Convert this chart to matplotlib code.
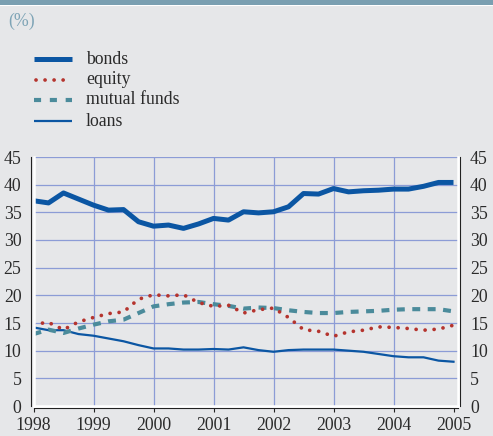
import matplotlib
matplotlib.use("Agg")
import matplotlib.pyplot as plt
from matplotlib.lines import Line2D
from matplotlib.patches import Rectangle
import numpy as np

# ---- data (quarterly, 1998 Q1 .. 2005 Q1) ----
start_year = 1998
bonds = [37.1, 36.7, 38.5, 37.4, 36.3, 35.4, 35.5, 33.3, 32.5, 32.7, 32.1, 32.9,
         33.9, 33.6, 35.1, 34.9, 35.1, 36.0, 38.4, 38.3, 39.3, 38.7, 38.9, 39.0,
         39.2, 39.2, 39.7, 40.4, 40.4]
equity = [14.8, 15.1, 13.8, 15.2, 16.0, 16.7, 17.0, 19.3, 20.1, 19.9, 20.1, 18.7,
          18.0, 18.2, 16.8, 17.4, 17.7, 16.0, 13.8, 13.5, 12.6, 13.4, 13.7, 14.3,
          14.2, 14.0, 13.7, 13.9, 14.6]
mutual_funds = [13.0, 13.8, 13.2, 14.0, 14.7, 15.3, 15.6, 16.8, 18.0, 18.4, 18.7, 18.8,
                18.4, 18.1, 17.6, 17.8, 17.7, 17.3, 17.0, 16.8, 16.8, 17.0, 17.1, 17.2,
                17.4, 17.5, 17.5, 17.5, 17.1]
loans = [14.2, 13.7, 13.7, 13.0, 12.7, 12.2, 11.7, 11.0, 10.4, 10.4, 10.2, 10.2,
         10.3, 10.2, 10.6, 10.1, 9.8, 10.1, 10.2, 10.2, 10.2, 10.0, 9.8, 9.4,
         9.0, 8.8, 8.8, 8.2, 8.0]
series_labels = ["bonds", "equity", "mutual funds", "loans"]
x_ticks = [1998, 1999, 2000, 2001, 2002, 2003, 2004, 2005]
y_ticks = [0, 5, 10, 15, 20, 25, 30, 35, 40, 45]
unit_label = "(%)"

x = start_year + np.arange(len(bonds)) * 0.25

W, H = 493, 436
BG = "#e6e7e9"
GRID = "#8c9cd6"
BLUE = "#0b56a3"
RED = "#b5342e"
TEAL = "#4b8b9b"
TXT = "#2b2b2b"
FONT = "Liberation Serif"
FS = 12.8

fig = plt.figure(figsize=(W / 100, H / 100), dpi=100, facecolor=BG)

# top band
fig.patches.append(Rectangle((0, 1 - 5 / H), 1, 5 / H, transform=fig.transFigure,
                             facecolor="#7a9fb1", edgecolor="none", zorder=0))
fig.patches.append(Rectangle((0, 1 - 6.5 / H), 1, 1.5 / H, transform=fig.transFigure,
                             facecolor="white", edgecolor="none", zorder=0))

fig.text(8 / W, 1 - 21 / H, unit_label, color="#7ea4b6", fontsize=FS,
         family=FONT, va="center", ha="left")

ax = fig.add_axes([33.5 / W, 1 - 406 / H, (458 - 33.5) / W, (406 - 157) / H])
ax.set_facecolor(BG)
ax.set_xlim(1998, 2005.075)
ax.set_ylim(0, 45)

for yv in y_ticks[1:]:
    ax.axhline(yv, color=GRID, lw=0.9, zorder=1)
for xv in x_ticks[1:-1]:
    ax.axvline(xv, color=GRID, lw=0.9, zorder=1)

def style_equity(line):
    line.set_dashes((0.01, 2.4))
    line.set_dash_capstyle("round")

def style_funds(line):
    line.set_dashes((1.9, 1.8))
    line.set_dash_capstyle("butt")

ax.plot(x, loans, color=BLUE, lw=1.6, zorder=3, solid_joinstyle="round")
l_mf, = ax.plot(x, mutual_funds, color=TEAL, lw=3.0, zorder=4)
style_funds(l_mf)
l_eq, = ax.plot(x, equity, color=RED, lw=2.7, zorder=5)
style_equity(l_eq)
ax.plot(x, bonds, color=BLUE, lw=3.6, zorder=6, solid_joinstyle="round",
        solid_capstyle="butt")

# frame: white inner lines plus dark outer lines
ax.spines["top"].set_visible(False)
for s in ["left", "right", "bottom"]:
    ax.spines[s].set_color("#222222")
    ax.spines[s].set_linewidth(0.8)
    ax.spines[s].set_position(("outward", 1.6))
ax.axvline(1998, color="white", lw=1.8, zorder=7, clip_on=False)
ax.axvline(2005.075, color="white", lw=1.8, zorder=7, clip_on=False)
ax.axhline(0, color="white", lw=1.8, zorder=7, clip_on=False)

ax.set_xticks(x_ticks)
ax.set_xticklabels([str(v) for v in x_ticks])
ax.set_yticks(y_ticks)
ax.set_yticklabels([str(v) for v in y_ticks])
ax.tick_params(axis="x", direction="out", length=3, width=0.8, color="#222222",
               pad=3, labelsize=FS, labelcolor=TXT)
ax.tick_params(axis="y", length=0, pad=7, labelsize=FS, labelcolor=TXT,
               left=False, right=False, labelleft=True, labelright=True)
for lab in ax.get_xticklabels() + ax.get_yticklabels():
    lab.set_family(FONT)

# legend (manual)
rows = [59, 80, 100, 121]
styles = [dict(color=BLUE, lw=3.6), dict(color=RED, lw=2.7),
          dict(color=TEAL, lw=3.0), dict(color=BLUE, lw=1.6)]
for i, (yy, lab, st) in enumerate(zip(rows, series_labels, styles)):
    ln = Line2D([34 / W, 72 / W], [1 - yy / H, 1 - yy / H], transform=fig.transFigure,
                solid_capstyle="butt", **st)
    if i == 1:
        ln.set_xdata([35.5 / W, 72 / W])
        style_equity(ln)
    elif i == 2:
        ln.set_dashes((1.7, 2.1))
    fig.lines.append(ln)
    fig.text(86 / W, 1 - yy / H, lab, fontsize=FS, family=FONT, color=TXT,
             va="center", ha="left")

fig.savefig("out.png", dpi=100, facecolor=BG)
